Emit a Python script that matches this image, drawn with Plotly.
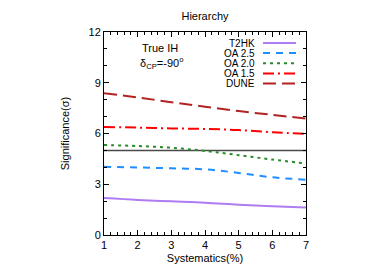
import plotly.graph_objects as go

systematics = [1, 2, 3, 4, 5, 6, 7]
t2hk = [2.18, 2.07, 1.99, 1.91, 1.79, 1.70, 1.62]
oa25 = [4.03, 3.99, 3.94, 3.88, 3.67, 3.41, 3.27]
oa20 = [5.32, 5.26, 5.16, 4.97, 4.72, 4.46, 4.23]
oa15 = [6.38, 6.35, 6.30, 6.27, 6.20, 6.08, 5.98]
dune = [8.38, 8.13, 7.85, 7.58, 7.33, 7.10, 6.88]
threshold = [5, 5, 5, 5, 5, 5, 5]

names = ["T2HK", "OA 2.5", "OA 2.0", "OA 1.5", "DUNE"]
series = [t2hk, oa25, oa20, oa15, dune]
colors = ["#b07cf2", "#1e8fff", "#2a8a2a", "#ff0000", "#b22222"]
dashes = ["solid", "7px,6px", "3px,4px", "11px,4px,2px,4px", "13px,6px"]

font = "Liberation Sans, Arial, sans-serif"
fig = go.Figure()

fig.add_trace(go.Scatter(x=systematics, y=threshold, mode="lines",
                         line=dict(color="#4a4a4a", width=1.5), showlegend=False,
                         hoverinfo="skip"))
for n, s, c, d in zip(names, series, colors, dashes):
    fig.add_trace(go.Scatter(x=systematics, y=s, mode="lines", name=n,
                             line=dict(color=c, width=2, dash=d, shape="spline"),
                             showlegend=False))

# page body has an 8px default margin, so lay out in a slightly smaller figure
OFF = 8
W, H = 385 - OFF, 269 - OFF
L, R, T, B = 104 - OFF, 79, 32 - OFF, 34
pw, ph = W - L - R, H - T - B
def px2paper_x(px):  # px given in reference-window pixels
    return (px - OFF - L) / pw
def px2paper_y(py):
    return (H - B - (py - OFF)) / ph

row_y = [43, 53, 63.3, 73.5, 83.5]
for n, c, d, yy in zip(names, colors, dashes, row_y):
    fig.add_annotation(x=px2paper_x(257), y=px2paper_y(yy), xref="paper", yref="paper",
                       text=n, showarrow=False, xanchor="right", yanchor="middle",
                       font=dict(family=font, size=10, color="black"))
    fig.add_shape(type="line", xref="paper", yref="paper",
                  x0=px2paper_x(263), x1=px2paper_x(296),
                  y0=px2paper_y(yy), y1=px2paper_y(yy),
                  line=dict(color=c, width=2, dash=d))

fig.add_annotation(x=px2paper_x(160), y=px2paper_y(48), xref="paper", yref="paper",
                   text="True IH", showarrow=False, xanchor="center", yanchor="middle",
                   font=dict(family=font, size=11, color="black"))
fig.add_annotation(x=px2paper_x(161), y=px2paper_y(63), xref="paper", yref="paper",
                   text="δ<sub>CP</sub>=-90<sup>o</sup>", showarrow=False,
                   xanchor="center", yanchor="middle",
                   font=dict(family=font, size=11, color="black"))

fig.update_layout(
    template="none",
    width=W, height=H,
    margin=dict(l=L, r=R, t=T, b=B, autoexpand=False),
    paper_bgcolor="white", plot_bgcolor="white",
    title=dict(text="Hierarchy", x=(L + pw / 2) / W, xanchor="center",
               y=1 - (16 - OFF) / H, yanchor="middle",
               font=dict(family=font, size=11, color="black")),
    font=dict(family=font, size=11, color="black"),
    showlegend=False,
)
fig.update_xaxes(range=[1, 7], tickvals=systematics, ticks="inside", ticklen=5,
                 tickcolor="black",
                 minor=dict(dtick=0.2, ticks="inside", ticklen=3, tickcolor="black"),
                 showline=True, linecolor="black", linewidth=1, mirror="allticks",
                 showgrid=False, zeroline=False, automargin=False,
                 title=dict(text="Systematics(%)", standoff=4,
                            font=dict(family=font, size=11)),
                 tickfont=dict(family=font, size=11))
fig.update_yaxes(range=[0, 12], tickvals=[0, 3, 6, 9, 12], ticks="inside", ticklen=5,
                 tickcolor="black",
                 minor=dict(dtick=1, ticks="inside", ticklen=3, tickcolor="black"),
                 showline=True, linecolor="black", linewidth=1, mirror="allticks",
                 showgrid=False, zeroline=False, automargin=False,
                 title=dict(text="Significance(σ)", standoff=16,
                            font=dict(family=font, size=11)),
                 tickfont=dict(family=font, size=11))

fig.write_html("out.html")
